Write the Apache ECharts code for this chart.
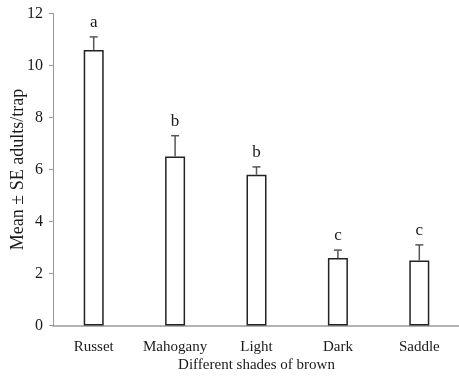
<!DOCTYPE html>
<html>
<head>
<meta charset="utf-8">
<script src="https://cdn.jsdelivr.net/npm/echarts@6/dist/echarts.min.js"></script>
<style>
  html, body { margin: 0; padding: 0; background: #fff; }
  #chart { width: 459px; height: 376px; }
</style>
</head>
<body>
<div id="chart"></div>
<script>
// Trap catches by shade of brown: mean, standard error and significance group
const categories = ['Russet', 'Mahogany', 'Light', 'Dark', 'Saddle'];
const means = [10.6, 6.5, 5.8, 2.6, 2.5];
const stdErr = [0.5, 0.8, 0.3, 0.3, 0.6];
const groups = ['a', 'b', 'b', 'c', 'c'];
const yMin = 0, yMax = 12, yStep = 2;

const serif = '"Liberation Serif", "Times New Roman", serif';
const chart = echarts.init(document.getElementById('chart'), null, { renderer: 'canvas' });

const errData = categories.map((c, i) => [i, means[i], stdErr[i]]);

chart.setOption({
  animation: false,
  backgroundColor: '#fff',
  grid: {
    left: 53, top: 13.5, width: 407, bottom: 50.5,
    containLabel: false,
    outerBoundsMode: 'none'
  },
  xAxis: {
    type: 'category',
    data: categories,
    name: 'Different shades of brown',
    nameLocation: 'middle',
    nameGap: 32,
    nameMoveOverlap: false,
    nameTextStyle: { fontFamily: serif, fontSize: 15, color: '#1a1a1a' },
    axisLine: { lineStyle: { color: '#999', width: 1.5 } },
    axisTick: { show: false },
    axisLabel: {
      fontFamily: serif, fontSize: 15, color: '#1a1a1a', margin: 14,
      interval: 0, hideOverlap: false
    },
    splitLine: { show: false }
  },
  yAxis: {
    type: 'value',
    min: yMin,
    max: yMax,
    interval: yStep,
    name: 'Mean \u00b1 SE adults/trap',
    nameLocation: 'middle',
    nameGap: 26,
    nameMoveOverlap: false,
    nameTextStyle: { fontFamily: serif, fontSize: 18, color: '#1a1a1a' },
    axisLine: { show: true, lineStyle: { color: '#999', width: 1 } },
    axisTick: { show: true, length: 4, lineStyle: { color: '#999' } },
    axisLabel: { fontFamily: serif, fontSize: 16, color: '#1a1a1a', margin: 10 },
    splitLine: { show: false }
  },
  series: [
    {
      type: 'bar',
      data: means,
      barWidth: 20,
      itemStyle: { color: '#fff', borderColor: '#222', borderWidth: 1.5 },
      z: 2
    },
    {
      type: 'custom',
      data: errData,
      z: 3,
      renderItem: function (params, api) {
        const i = api.value(0);
        const m = api.value(1);
        const s = api.value(2);
        const base = api.coord([i, m]);
        const top = api.coord([i, m + s]);
        const stroke = { stroke: '#555', lineWidth: 1.5 };
        return {
          type: 'group',
          children: [
            { type: 'line', shape: { x1: base[0], y1: base[1], x2: top[0], y2: top[1] }, style: stroke },
            { type: 'line', shape: { x1: top[0] - 4, y1: top[1], x2: top[0] + 4, y2: top[1] }, style: stroke },
            {
              type: 'text',
              x: top[0],
              y: top[1] - 6,
              style: {
                text: groups[i],
                textAlign: 'center',
                textVerticalAlign: 'bottom',
                font: '17px ' + serif,
                fill: '#1a1a1a'
              }
            }
          ]
        };
      }
    }
  ]
});
</script>
</body>
</html>
